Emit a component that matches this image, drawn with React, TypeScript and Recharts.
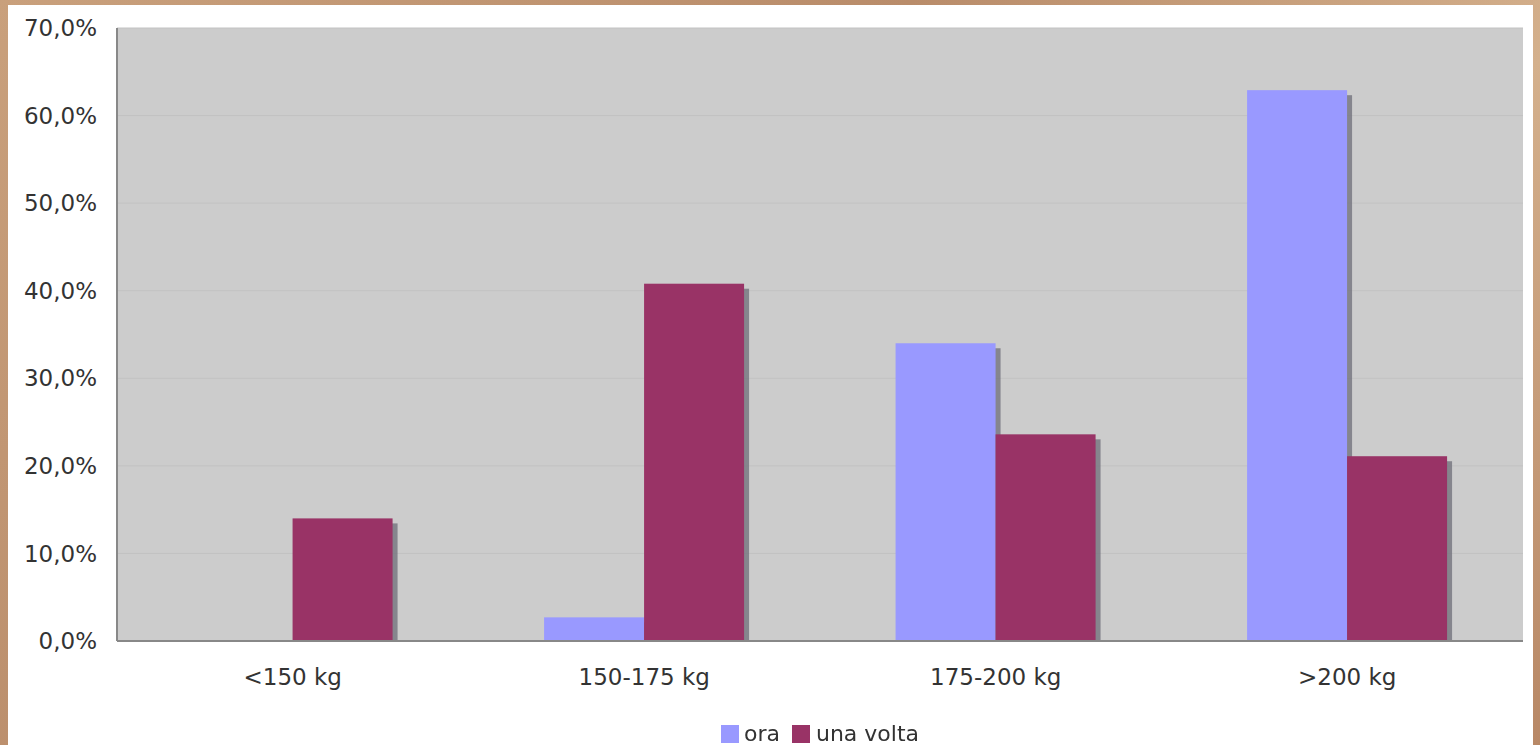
import React from "react";
import { BarChart, Bar, XAxis, YAxis, CartesianGrid, Legend, ReferenceArea } from "recharts";

const categories = ["<150 kg", "150-175 kg", "175-200 kg", ">200 kg"];
const oraValues = [0, 2.7, 34.0, 62.9];
const unaVoltaValues = [14.0, 40.8, 23.6, 21.1];
const yTicks = [0, 10, 20, 30, 40, 50, 60, 70];

const data = categories.map((name, i) => ({
  name,
  ora: oraValues[i],
  unaVolta: unaVoltaValues[i],
}));

const FONT = "'DejaVu Sans', Verdana, sans-serif";

// bar with a little grey drop shadow on the right, like the old office charts
const ShadowBar = (props: any) => {
  const { x, y, width, height, fill } = props;
  if (!height || height <= 0) return null;
  return (
    <g>
      <rect x={x + 5} y={y + 5} width={width} height={Math.max(height - 5, 0)} fill="#6e6e78" opacity={0.75} />
      <rect x={x} y={y} width={width} height={height} fill={fill} />
    </g>
  );
};

// legend is centred on the plot, not on the whole wrapper
const LegendBox = () => (
  <div style={{ display: "flex", justifyContent: "center", alignItems: "center", paddingTop: 8, paddingLeft: 80, fontFamily: FONT, fontSize: 22, color: "#333" }}>
    <span style={{ width: 18, height: 18, background: "#9999ff", display: "inline-block", marginRight: 5 }} />
    <span style={{ marginRight: 12 }}>ora</span>
    <span style={{ width: 18, height: 18, background: "#993366", display: "inline-block", marginRight: 6 }} />
    <span>una volta</span>
  </div>
);

const App = () => {
  return (
    <div style={{ position: "fixed", left: 0, top: 0, width: 1540, height: 745, background: "linear-gradient(135deg, #c9a07c, #b98c6a 40%, #d4b08c 70%, #b88866)" }}>
      <div style={{ position: "absolute", left: 8, top: 5, width: 1525, height: 740, background: "#ffffff" }} />
      <div style={{ position: "absolute", left: 0, top: 0 }}>
        <BarChart
          width={1540}
          height={745}
          data={data}
          margin={{ top: 28, right: 17, left: 37, bottom: 2 }}
          barCategoryGap="21.5%"
          barGap={0}
        >
          <CartesianGrid vertical={false} fill="#cccccc" stroke="#c2c2c2" />
          <XAxis
            dataKey="name"
            axisLine={{ stroke: "#888888", strokeWidth: 2 }}
            tickLine={false}
            tickSize={0}
            tickMargin={28}
            height={72}
            tick={{ fill: "#333", fontSize: 23, fontFamily: FONT }}
          />
          <YAxis
            domain={[0, 70]}
            ticks={yTicks}
            width={80}
            interval={0}
            axisLine={{ stroke: "#888888", strokeWidth: 2 }}
            tickLine={false}
            tickSize={0}
            tickMargin={20}
            tickFormatter={(v: number) => v.toFixed(1).replace(".", ",") + "%"}
            tick={{ fill: "#333", fontSize: 23, fontFamily: FONT }}
          />
          <ReferenceArea fill="none" stroke="#999999" strokeWidth={2} ifOverflow="visible" />
          <Bar dataKey="ora" fill="#9999ff" shape={<ShadowBar />} isAnimationActive={false} />
          <Bar dataKey="unaVolta" fill="#993366" shape={<ShadowBar />} isAnimationActive={false} />
          <Legend verticalAlign="bottom" height={30} content={() => <LegendBox />} />
        </BarChart>
      </div>
    </div>
  );
};

export default App;
